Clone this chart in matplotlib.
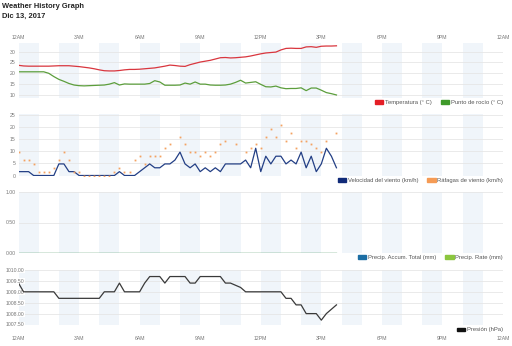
import numpy as np
import matplotlib
matplotlib.use("Agg")
import matplotlib.pyplot as plt
from matplotlib.patches import Patch

plt.rcParams['font.family'] = ['Liberation Sans', 'DejaVu Sans']

# 15-minute readings from midnight
hours = np.arange(64) / 4.0

temperature = [23.7, 23.4, 23.3, 23.3, 23.3, 23.3, 23.3, 23.4,
               23.5, 23.5, 23.5, 23.3, 23.1, 22.8, 22.5, 22.1,
               21.6, 21.2, 21.1, 21.1, 21.3, 21.6, 21.8, 21.8,
               21.9, 22.1, 22.3, 22.5, 22.9, 23.3, 23.8, 23.6,
               23.3, 23.2, 24.0, 24.6, 25.2, 25.6, 26.0, 26.6,
               27.2, 27.3, 27.1, 27.2, 27.4, 27.6, 28.0, 28.5,
               29.0, 29.4, 29.6, 29.8, 30.8, 31.5, 31.6, 31.5,
               31.5, 32.2, 32.3, 32.0, 32.5, 32.6, 32.6, 32.7]

dew_point = [20.7, 20.7, 20.7, 20.7, 20.7, 20.7, 20.0, 18.5,
             17.2, 16.3, 15.3, 14.6, 14.3, 14.2, 14.3, 14.4,
             14.5, 14.6, 15.0, 15.7, 14.6, 15.1, 15.0, 15.0,
             15.0, 15.0, 15.3, 16.6, 16.0, 14.5, 14.5, 14.5,
             14.6, 15.5, 15.0, 16.0, 15.0, 15.0, 14.6, 14.5,
             14.5, 14.6, 15.0, 15.8, 16.8, 15.5, 15.8, 16.1,
             14.9, 13.8, 13.7, 14.1, 13.3, 12.9, 13.0, 13.0,
             13.3, 12.0, 13.2, 13.2, 12.2, 11.1, 10.6, 10.0]

wind_speed = [1.6, 1.6, 1.6, 0.0, 0.0, 0.0, 0.0, 0.0,
              4.8, 4.8, 1.6, 1.6, 0.0, 0.0, 0.0, 0.0,
              0.0, 0.0, 0.0, 0.0, 1.6, 0.0, 0.0, 0.0,
              1.6, 3.2, 4.8, 3.2, 3.2, 4.8, 4.8, 6.4,
              9.7, 4.8, 3.2, 4.8, 1.6, 3.2, 1.6, 3.2,
              1.6, 4.8, 4.8, 4.8, 4.8, 6.4, 3.2, 11.3,
              1.6, 8.0, 4.8, 8.0, 8.0, 4.8, 6.4, 4.8,
              9.7, 3.2, 8.0, 1.6, 4.8, 11.3, 8.0, 3.2]

nan = float('nan')
wind_gust = [9.7, 6.4, 6.4, 4.8, 1.6, 1.6, 1.6, 3.2,
             6.4, 9.7, 6.4, 1.6, 1.6, 0.0, 0.0, 0.0,
             0.0, 0.0, 0.0, 1.6, 3.2, 1.6, 1.6, 6.4,
             8.0, 4.8, 8.0, 8.0, 8.0, 11.3, 12.9, nan,
             16.1, 12.9, 9.7, 9.7, 8.0, 9.7, 8.0, 9.7,
             12.9, 14.5, nan, 12.9, nan, 9.7, 11.3, 12.9,
             11.3, 16.1, 19.3, 16.1, 20.9, 14.5, 17.7, 11.3,
             14.5, 14.5, 12.9, 11.3, 9.7, 14.5, nan, 17.7]

precip_total = [0.0, 0.0, 0.0, 0.0, 0.0, 0.0, 0.0, 0.0,
                0.0, 0.0, 0.0, 0.0, 0.0, 0.0, 0.0, 0.0,
                0.0, 0.0, 0.0, 0.0, 0.0, 0.0, 0.0, 0.0,
                0.0, 0.0, 0.0, 0.0, 0.0, 0.0, 0.0, 0.0,
                0.0, 0.0, 0.0, 0.0, 0.0, 0.0, 0.0, 0.0,
                0.0, 0.0, 0.0, 0.0, 0.0, 0.0, 0.0, 0.0,
                0.0, 0.0, 0.0, 0.0, 0.0, 0.0, 0.0, 0.0,
                0.0, 0.0, 0.0, 0.0, 0.0, 0.0, 0.0, 0.0]
precip_rate = list(precip_total)

pressure = [1009.4, 1009.0, 1009.0, 1009.0, 1009.0, 1009.0, 1009.0, 1009.0,
            1008.7, 1008.7, 1008.7, 1008.7, 1008.7, 1008.7, 1008.7, 1008.7,
            1008.7, 1009.0, 1009.0, 1009.0, 1009.4, 1009.0, 1009.0, 1009.0,
            1009.0, 1009.4, 1009.7, 1009.7, 1009.7, 1009.4, 1009.7, 1009.7,
            1009.7, 1009.7, 1009.4, 1009.4, 1009.7, 1009.7, 1009.7, 1009.7,
            1009.7, 1009.4, 1009.4, 1009.3, 1009.2, 1009.0, 1009.0, 1009.0,
            1009.0, 1009.0, 1009.0, 1009.0, 1009.0, 1008.7, 1008.7, 1008.4,
            1008.4, 1008.0, 1008.0, 1008.0, 1007.7, 1008.0, 1008.2, 1008.4]

hour_ticks = [0, 3, 6, 9, 12, 15, 18, 21, 24]
hour_labels = ['12AM', '3AM', '6AM', '9AM', '12PM', '3PM', '6PM', '9PM', '12AM']

TICK_GREY = '#777777'
FS = 3.7
LEG_FS = 4.2

fig = plt.figure(figsize=(5.12, 3.46), dpi=100)

W, H = 512.0, 346.0
left, right = 18.5, 503.0
# (top, bottom) of each panel in pixels
panels = [(43, 98), (114, 175.5), (192, 253), (270, 324.5)]
axes = []
for top, bottom in panels:
    ax = fig.add_axes([left / W, 1 - bottom / H, (right - left) / W, (bottom - top) / H])
    axes.append(ax)

for ax in axes:
    ax.set_xlim(0, 24)
    for h in range(0, 24, 2):
        ax.axvspan(h, h + 1, color='#f0f5fa', lw=0, zorder=0)
    for s in ax.spines.values():
        s.set_visible(False)
    ax.grid(axis='y', color='#e6e6e6', lw=0.6, zorder=0.5)
    ax.tick_params(length=0, labelsize=FS, labelcolor=TICK_GREY, pad=2)
    ax.set_xticks(hour_ticks)
    ax.set_xticklabels([])


def add_legend(ax, handles, y):
    ax.legend(handles=handles, loc='center right', bbox_to_anchor=(1.0, y),
              ncol=len(handles), frameon=False, fontsize=LEG_FS,
              handlelength=1.4, handleheight=0.6, handletextpad=0.3,
              columnspacing=1.6, borderpad=0, borderaxespad=0,
              labelcolor='#555555')


# temperature / dew point
ax1 = axes[0]
ax1.plot(hours, temperature, color='#d9363e', lw=0.9, zorder=3)
ax1.plot(hours, dew_point, color='#5c9e3c', lw=0.9, zorder=3)
ax1.set_ylim(8.6, 34)
ax1.set_yticks([10, 15, 20, 25, 30])
ax1.xaxis.tick_top()
ax1.set_xticklabels(hour_labels)
ax1.tick_params(axis='x', pad=2)
add_legend(ax1, [Patch(color='#e41e26', label='Temperatura (° C)'),
                 Patch(color='#3f9a2a', label='Punto de rocío (° C)')], -0.08)

# wind
ax2 = axes[1]
ax2.plot(hours, wind_speed, color='#233f85', lw=0.9, zorder=3)
ax2.plot(hours, wind_gust, ls='none', marker='s', ms=1.3, mew=0,
         color='#f4a261', zorder=3)
ax2.set_ylim(0, 25.5)
ax2.set_yticks([0, 5, 10, 15, 20, 25])
add_legend(ax2, [Patch(color='#102a78', label='Velocidad del viento (km/h)'),
                 Patch(color='#f59b55', label='Ráfagas de viento (km/h)')], -0.08)

# precipitation
ax3 = axes[2]
ax3.plot(hours, precip_total, color='#1c6ea4', lw=0.9, zorder=3)
ax3.plot(hours, precip_rate, color='#8cc63f', lw=0.9, zorder=3)
ax3.set_ylim(0, 1)
ax3.set_yticks([0, 0.5, 1.0])
ax3.set_yticklabels(['0.00', '0.50', '1.00'])
add_legend(ax3, [Patch(color='#1c6ea4', label='Precip. Accum. Total (mm)'),
                 Patch(color='#8cc63f', label='Precip. Rate (mm)')], -0.07)

# pressure
ax4 = axes[3]
ax4.plot(hours, pressure, color='#3a3a3a', lw=0.9, zorder=3)
ax4.set_ylim(1007.5, 1010.0)
p_ticks = [1007.5, 1008.0, 1008.5, 1009.0, 1009.5, 1010.0]
ax4.set_yticks(p_ticks)
ax4.set_yticklabels([f'{v:.2f}' for v in p_ticks])
for lab in ax4.get_yticklabels():
    lab.set_horizontalalignment('left')
    lab.set_bbox(dict(facecolor='white', edgecolor='none', pad=0.3))
ax4.tick_params(axis='y', pad=9)
ax4.set_xticklabels(hour_labels)
ax4.tick_params(axis='x', pad=8)
add_legend(ax4, [Patch(color='#111111', label='Presión (hPa)')], -0.1)

fig.text(2 / W, 1 - 3 / H, 'Weather History Graph', fontsize=5.4,
         fontweight='bold', color='#222222', va='top', ha='left')
fig.text(2 / W, 1 - 12.5 / H, 'Dic 13, 2017', fontsize=5.4,
         fontweight='bold', color='#222222', va='top', ha='left')

fig.savefig('out.png', dpi=100)
